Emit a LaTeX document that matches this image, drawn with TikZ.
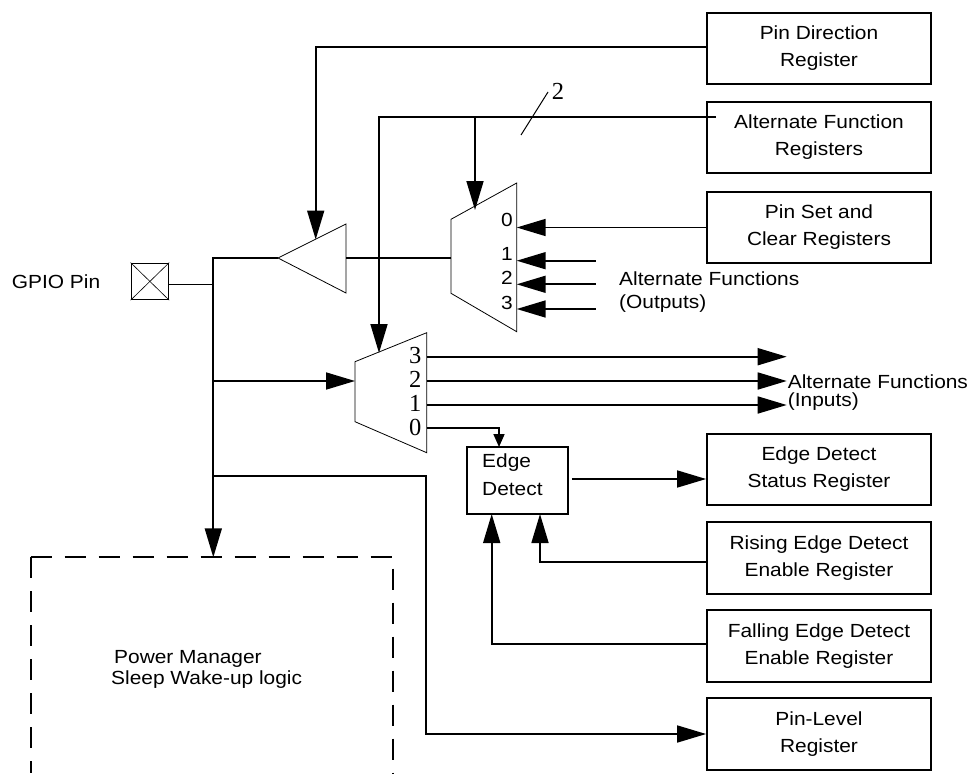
\documentclass[tikz,border=0pt]{standalone}
\usepackage{fontspec}
\setmainfont{Liberation Sans}[FakeStretch=1.1]
\newfontfamily\serifdigits{Liberation Serif}
\usetikzlibrary{arrows.meta,calc}
\begin{document}
\begin{tikzpicture}[x=1pt,y=-1pt,
  conn/.style={line width=1.7pt},
  outl/.style={line width=0.8pt},
  big/.style={-{Triangle[length=29pt,width=17pt]}},
  small/.style={-{Triangle[length=13pt,width=11pt]}},
  regbox/.style={draw,line width=1.8pt,minimum width=224pt,minimum height=71.5pt,inner sep=0pt,align=center,font=\fontsize{19}{27}\selectfont},
  lbl/.style={font=\fontsize{19}{23}\selectfont,inner sep=0pt,anchor=base west},
  dig/.style={font=\fontsize{19}{23}\selectfont,inner sep=0pt,anchor=base east},
  sdig/.style={font=\serifdigits\fontsize{24.5}{28}\selectfont,inner sep=0pt,anchor=base east},
]
\useasboundingbox (0,0) rectangle (973,773);

% register boxes
\node[regbox] (pd)  at (819,48.5)  {Pin Direction\\Register};
\node[regbox] (af)  at (819,137.5) {Alternate Function\\Registers};
\node[regbox] (ps)  at (819,227.5) {Pin Set and\\Clear Registers};
\node[regbox] (eds) at (819,469.5) {Edge Detect\\Status Register};
\node[regbox] (re)  at (819,558)   {Rising Edge Detect\\Enable Register};
\node[regbox] (fe)  at (819,646)   {Falling Edge Detect\\Enable Register};
\node[regbox] (pl)  at (819,734)   {Pin-Level\\Register};

% GPIO pin
\node[draw,line width=1.6pt,minimum width=37pt,minimum height=36pt,inner sep=0pt] (pin) at (149.9,281.4) {};
\draw[line width=0.6pt] (pin.north west) -- (pin.south east) (pin.north east) -- (pin.south west);
\node[lbl] (gpiolbl) at (11.7,288) {GPIO Pin};

% edge detect box
\node[draw,line width=1.7pt,minimum width=101pt,minimum height=67pt,inner sep=0pt] (ed) at (517.5,480.5) {};
\node[lbl] (edl1) at (482,467.7) {Edge};
\node[lbl] (edl2) at (482,495) {Detect};

% output buffer
\coordinate (buftip) at (278,258);
\coordinate (bufin) at (346,258);
\draw[outl] (buftip) -- (346,224) -- (346,293) -- cycle;

% mux 1 (outputs)
\coordinate (m1tl) at (451,219.3);
\coordinate (m1tr) at (516.7,183);
\coordinate (m1br) at (516.7,331.7);
\coordinate (m1bl) at (451,293.3);
\draw[outl] (m1tl) -- (m1tr) -- (m1br) -- (m1bl) -- cycle;
\node[dig] (m1l0) at (513,226.7) {0};
\node[dig] (m1l1) at (513,260.7) {1};
\node[dig] (m1l2) at (513,284.3) {2};
\node[dig] (m1l3) at (513,309) {3};

% mux 2 (inputs)
\coordinate (m2tl) at (355,361.7);
\coordinate (m2tr) at (426.7,332.7);
\coordinate (m2br) at (426.7,452.7);
\coordinate (m2bl) at (355,421.7);
\draw[outl] (m2tl) -- (m2tr) -- (m2br) -- (m2bl) -- cycle;
\node[sdig] (m2l3) at (421.5,363) {3};
\node[sdig] (m2l2) at (421.5,387.5) {2};
\node[sdig] (m2l1) at (421.5,411.5) {1};
\node[sdig] (m2l0) at (421.5,435.5) {0};

% dashed power manager block
\draw[line width=1.7pt,dash pattern=on 21pt off 13pt] (30.7,557.3) -- (30.7,773);
\draw[line width=1.7pt,dash pattern=on 21pt off 13pt] (30.7,557.3) -- (393.3,557.3) -- (393.3,773);
\node[lbl] (pm1) at (114,663.3) {Power Manager};
\node[lbl] (pm2) at (111,684.3) {Sleep Wake-up logic};

% texts
\node[lbl] (afo1t) at (619,285) {Alternate Functions};
\node[lbl] (afo2t) at (619,308) {(Outputs)};
\node[lbl] (afi1t) at (787.7,388.3) {Alternate Functions};
\node[lbl] (afi2t) at (787.7,406.5) {(Inputs)};
\node[font=\serifdigits\fontsize{24.5}{28}\selectfont,inner sep=0pt,anchor=base west] (buswidth) at (551.7,99.3) {2};

% coordinates for connectors
\coordinate (bufdir) at (315.7,239.5);
\coordinate (afout) at (716,117);
\coordinate (afj1) at (379,117);
\coordinate (afj2) at (475,117);
\coordinate (m1sel) at (475,210);
\coordinate (m2sel) at (379,353);
\coordinate (m1in) at (451,258);
\coordinate (busT) at (213.3,258);
\coordinate (busM2) at (213.3,381);
\coordinate (busPL) at (213.3,475.7);
\coordinate (pmtop) at (213.3,557.3);
\coordinate (m2in) at (355,381);
\coordinate (plx) at (426,475.7);
\coordinate (m2o3) at (426.7,356.7);
\coordinate (m2o2) at (426.7,381);
\coordinate (m2o1) at (426.7,405);
\coordinate (m2o0) at (426.7,428.3);
\coordinate (afi3) at (786.7,356.7);
\coordinate (afi2) at (786.7,381);
\coordinate (afi1) at (786.7,405);
\coordinate (edin) at (499,447);
\coordinate (afo1) at (595.7,260.7);
\coordinate (afo2) at (595.7,284.3);
\coordinate (afo3) at (595.7,309);
\coordinate (redge) at (540,514);
\coordinate (fedge) at (491.7,514);

% connectors
\draw[conn,big] ([yshift=1.8pt]pd.west) -| (bufdir);
\draw[conn,big] (afout) -- (afj1) -- (m2sel);
\draw[conn,big] (afj2) -- (m1sel);
\draw[line width=1pt] (548,92) -- (521,135);
\draw[conn,big] (ps.west) -- (ps.west -| m1tr);
\draw[conn,big] (afo1) -- (afo1 -| m1tr);
\draw[conn,big] (afo2) -- (afo2 -| m1tr);
\draw[conn,big] (afo3) -- (afo3 -| m1tr);
\draw[conn] (m1in) -- (bufin);
\draw[conn,big] (buftip) -- (busT) -- (pmtop);
\draw[conn] ([yshift=-3pt]pin.east) -- ([yshift=-3pt]pin.east -| busT);
\draw[conn,big] (busM2) -- (m2in);
\draw[conn,big] (busPL) -- (plx) |- (pl.west);
\draw[conn,big] (m2o3) -- (afi3);
\draw[conn,big] (m2o2) -- (afi2);
\draw[conn,big] (m2o1) -- (afi1);
\draw[conn,small] (m2o0) -| (edin);
\draw[conn,big] ([xshift=3pt,yshift=1.5pt]ed.east) -- ([yshift=1.5pt]ed.east -| eds.west);
\draw[conn,big] ([yshift=-3.7pt]re.west) -| (redge);
\draw[conn,big] ([yshift=2pt]fe.west) -| (fedge);
\end{tikzpicture}
\end{document}
